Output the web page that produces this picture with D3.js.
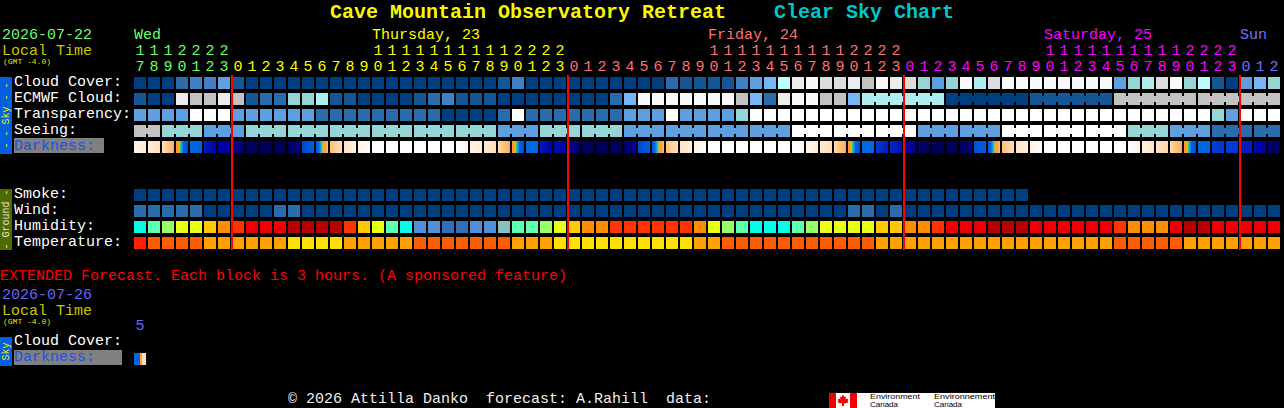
<!DOCTYPE html>
<html>
<head>
<meta charset="utf-8">
<title>Cave Mountain Observatory Retreat Clear Sky Chart</title>
<script src="https://cdnjs.cloudflare.com/ajax/libs/d3/7.8.5/d3.min.js"></script>
<style>
  html, body { margin: 0; padding: 0; background: #000; overflow: hidden; }
  svg { display: block; }
  text { font-family: "Liberation Mono", monospace; font-size: 15px; white-space: pre; }
</style>
</head>
<body>
<svg id="chart" width="1284" height="408"></svg>
<script>
// hour of day for each one hour column, starts wed 17:00
const hours = [17,18,19,20,21,22,23,
  0,1,2,3,4,5,6,7,8,9,10,11,12,13,14,15,16,17,18,19,20,21,22,23,
  0,1,2,3,4,5,6,7,8,9,10,11,12,13,14,15,16,17,18,19,20,21,22,23,
  0,1,2,3,4,5,6,7,8,9,10,11,12,13,14,15,16,17,18,19,20,21,22,23,
  0,1,2];
const dayNames = ['Wed', 'Thursday, 23', 'Friday, 24', 'Saturday, 25', 'Sun'];
const dayStarts = [0, 7, 31, 55, 79];
const dayLabelCols = [0, 17, 41, 65, 79];
const midnightCols = [7, 31, 55, 79];

// sky rows, values are index into the sky colour list (0 = clear/dark blue .. 13 = white)
const cloudCover = [0,0,0,2,3,3,4,1,0,0, 0,0,0,0,0,0,0,0,0,0,
  0,0,0,0,0,0,1,3,0,0, 0,0,0,0,0,0,0,0,2,1,
  1,1,1,3,4,5,8,11,12,10, 10,11,9,12,11,10,6,4,6,12,
  7,10,12,12,12,12,12,12,12,12, 4,6,7,10,12,6,8,1,0,4,5,6];
const ecmwfCloud = [1,0,0,11,9,9,11,9,1,2, 2,6,6,7,1,1,0,0,0,0,
  1,2,3,1,1,1,0,0,0,0, 0,0,0,0,2,5,12,12,12,12,
  12,12,12,9,5,2,11,12,12,9, 9,5,7,7,7,7,7,7,0,0,
  0,0,0,0,1,1,1,1,1,1, 9,9,9,9,9,9,9,9,9,9,9,9];
const transparency = [4,4,4,4,13,13,13,4,4,4, 4,4,4,2,2,2,2,2,2,2,
  2,2,0,0,0,0,2,13,2,2, 2,2,2,2,2,4,4,4,13,4,
  4,4,4,6,13,13,13,13,13,13, 13,13,13,13,13,13,13,13,13,13,
  13,13,13,13,13,13,13,13,13,13, 13,13,13,13,13,13,13,6,4,13,13,13];
const seeing = [9,9, 6,6,6, 4,4,4, 6,6,6, 6,6,6, 6,6,6, 6,6,6, 6,6,6, 6,6,6,
  4,4,4, 6,6,6, 6,6,6, 4,4,4, 4,4,4, 4,4,4, 4,4,4,
  13,13,13, 13,13,13, 13,13,13, 4,4,4, 4,4,4,
  13,13,13, 13,13,13, 13,13,13, 6,6,6, 4,4,4, 2,2,2, 2,2];
const smoke = [0,0,0,0,0,0,0,0,0,0, 0,0,0,0,0,0,0,0,0,0,
  0,0,0,0,0,0,0,0,0,0, 0,0,0,0,0,0,0,0,0,0,
  0,0,0,0,0,0,0,0,0,0, 0,0,0,0,0,0,0,0,0,0, 0,0,0,0];
const wind = [2,2,2,2,2,0,0,0,0,0, 2,2,0,0,0,0,0,0,0,0,
  0,0,0,0,0,0,0,0,0,0, 0,0,0,0,0,0,0,0,0,0,
  0,0,0,0,0,0,0,0,0,0, 0,2,2,0,2,0,0,0,0,0,
  0,0,0,0,0,0,0,0,0,0, 0,0,0,0,0,0,0,0,0,0,0,0];
// relative humidity %
const humidity = [45,50,55,60,60,65,70,75,80,80, 80,85,85,85,85,75,65,60,50,45,
  35,35,30,30,35,35,40,50,50,55, 60,65,70,70,75,75,75,75,75,75,
  70,60,55,50,45,45,45,50,55,60, 60,60,60,65,65,70,70,75,80,80,
  80,85,85,85,80,80,80,80,80,80, 75,70,70,70,80,85,85,80,80,80,80,80];
// deg C
const temperature = [30,26,26,26,26,22,22,22,22,22, 22,18,18,18,18,22,22,22,22,22,
  26,26,26,26,26,26,26,22,22,22, 18,18,18,18,18,18,18,18,18,18,
  22,22,26,26,26,26,26,26,26,26, 26,26,26,22,22,22,22,22,22,22,
  22,22,22,22,22,22,22,22,22,22, 26,26,26,26,26,22,22,22,22,22,22,22];

// how many columns are joined together in each run
const seeingSpans = [2,3,3,3,3,3,3,3,3,3,3,3,3,3,3,3,3,3,3,3,3,3,3,3,3,3,3,2];
const ecmwfSpans = [...Array(52).fill(1), 6,6,6,6,6];

// darkness at left and right edge of each column (about a limiting magnitude,
// -6 is daylight, 8 the darkest sky)
const darknessIn = [-5,-4.3,-3.3,-1.5,1,3.8,5,5.6,6.8,7.2, 7.4,7.3,2.5,2,-2.2,-3.7,-5,-6,-6,-6,
  -6,-6,-6,-6,-5,-4.2,-3,-1.5,1,4, 4.5,5.5,7,7.3,7.3,7.3,2.5,2,-2.2,-3.6,
  -5,-6,-6,-6,-6,-6,-6,-6,-5.2,-4.2, -3,-1.5,1,3,3.5,5,6.8,7.2,7.4,7.4,
  2.2,2,-2.3,-3.6,-4.8,-6,-6,-6,-6,-6, -6,-6,-4.8,-3.8,-3,-1.5,1,2.8,2.8,3.8,4.5,6.5];
const darknessOut = [-4.4,-3.5,-1.8,2.5,1.5,5,5.3,6.5,7.2,7.4, 7.4,5.8,1.8,-2.2,-3.3,-4.7,-5.8,-6,-6,-6,
  -6,-6,-6,-5.2,-4.3,-3.3,-1.7,2.5,1,5, 5,6.8,7.3,7.3,7.2,5.5,1.8,-2.2,-3.3,-4.5,
  -5.8,-6,-6,-6,-6,-6,-6,-5.4,-4.4,-3.3, -1.7,2.5,1,3.8,4.2,6,7,7.4,7.4,6,
  1.8,-2.2,-3.2,-4.4,-5.8,-6,-6,-6,-6,-6, -6,-4.8,-3.8,-3,-1.7,2.5,1.2,3,3,3.8,5.5,7];
// extended block, squeezed into one cell
const extDarkness = [1.2,1.2,1.2,-1.5,-3.2,-3.4];

const skyColors = ['#003f7f','#135796','#2b6cad','#4080c4','#5e9fe0','#77b6f6','#95d5d5','#aeeeee','#bcfcfc',
  '#c2c2c2','#dcdcdc','#ececec','#fafafa','#ffffff'];
const humidityLevels = [30,35,40,45,50,55,60,65,70,75,80,85];
const humidityColors = ['#3070b8','#5090d8','#88c0c0','#00ffe6','#5dffb0','#99ff66','#e8ff16','#ffc800','#ff8c00','#ff3300','#ee0000','#b80000'];
const tempLevels = [18,22,26,30];
const tempColors = ['#ffe000','#ffa000','#ff5c00','#ff2000'];
const darkLevels = [-6,-5,-4,-3,-2,-1.5,-1,-0.5,-0.2,0.2,0.6,1,2,3,4,5,6,7,8];
const darkColors = ['#ffffff','#fff4e8','#ffe8cc','#ffd8a8','#ffb868','#ffa040','#ff9020','#e8c030','#80c860','#20b0b0','#0090ff',
  '#0068e0','#0058d8','#0038d0','#0018b8','#0000a8','#000088','#000060','#000050'];
const dayColors = ['#66ff66','#ffff00','#ff7070','#ff00ff','#7070ff'];

const skyColor = d3.scaleOrdinal().domain(d3.range(skyColors.length)).range(skyColors);
const humColor = d3.scaleOrdinal().domain(humidityLevels).range(humidityColors);
const tempColor = d3.scaleOrdinal().domain(tempLevels).range(tempColors);
const darkColor = d3.scaleLinear().domain(darkLevels).range(darkColors);

const svg = d3.select('#chart');
const defs = svg.append('defs');

const x = d3.scaleBand().domain(d3.range(hours.length)).range([134, 1280]).paddingInner(2 / 14).paddingOuter(0);
const skyRows = ['Cloud Cover:', 'ECMWF Cloud:', 'Transparency:', 'Seeing:', 'Darkness:'];
const groundRows = ['Smoke:', 'Wind:', 'Humidity:', 'Temperature:'];
const ySky = d3.scaleBand().domain(skyRows).range([77, 153]).paddingInner(4 / 16).paddingOuter(0);
const yGround = d3.scaleBand().domain(groundRows).range([189, 249]).paddingInner(4 / 16).paddingOuter(0);

const dayOf = c => d3.bisectRight(dayStarts, c) - 1;

function label(txt, tx, ty, fill, size) {
  return svg.append('text').attr('x', tx).attr('y', ty).attr('fill', fill)
    .style('font-size', (size || 15) + 'px').text(txt);
}

// ---- titles
label('Cave Mountain Observatory Retreat', 330, 18, '#f8f800', 20).style('font-weight', 'bold');
label('Clear Sky Chart', 774, 18, '#00c8c8', 20).style('font-weight', 'bold');

label('2026-07-22', 2, 39, '#66ff66');
label('Local Time', 2, 54.5, '#c8c800');
label('(GMT -4.0)', 3, 64, '#e0e000', 8);

dayNames.forEach((d, i) => label(d, x(dayLabelCols[i]), 39, dayColors[i]));

// ---- hour axes
const unitAxis = d3.axisTop(x).tickSize(0).tickPadding(0).tickFormat(c => hours[c] % 10);
const tensAxis = d3.axisTop(x).tickSize(0).tickPadding(0)
  .tickValues(d3.range(hours.length).filter(c => hours[c] >= 10))
  .tickFormat(c => Math.floor(hours[c] / 10));

[[unitAxis, 71], [tensAxis, 55]].forEach(([axis, by]) => {
  const g = svg.append('g').attr('transform', 'translate(0,' + by + ')').call(axis);
  g.select('.domain').remove();
  g.attr('font-family', null).attr('font-size', null);
  g.selectAll('text').attr('dy', 0).attr('fill', c => dayColors[dayOf(c)]);
});

// ---- blocks
function drawRow(values, rowY, colorFn, spans) {
  const g = svg.append('g').attr('shape-rendering', 'crispEdges');
  g.selectAll('rect.block').data(values).join('rect')
    .attr('class', 'block')
    .attr('x', (d, i) => x(i)).attr('y', rowY)
    .attr('width', x.bandwidth()).attr('height', ySky.bandwidth())
    .attr('fill', d => colorFn(d));
  if (spans) {
    // little tabs joining the columns of one forecast run
    let links = [], start = 0;
    spans.forEach(n => {
      d3.range(start, start + n - 1).forEach(c => links.push(c));
      start += n;
    });
    const tab = ySky.bandwidth() / 4;
    g.selectAll('rect.link').data(links).join('rect')
      .attr('class', 'link')
      .attr('x', c => x(c) + x.bandwidth()).attr('y', rowY + tab)
      .attr('width', x.step() - x.bandwidth()).attr('height', tab * 2)
      .attr('fill', c => colorFn(values[c]));
  }
}

drawRow(cloudCover, ySky('Cloud Cover:'), skyColor);
drawRow(ecmwfCloud, ySky('ECMWF Cloud:'), skyColor, ecmwfSpans);
drawRow(transparency, ySky('Transparency:'), skyColor);
drawRow(seeing, ySky('Seeing:'), skyColor, seeingSpans);
drawRow(smoke, yGround('Smoke:'), skyColor);
drawRow(wind, yGround('Wind:'), skyColor);
drawRow(humidity, yGround('Humidity:'), humColor);
drawRow(temperature, yGround('Temperature:'), tempColor);

// darkness blocks are gradients between the edge values
const stopAt = d3.range(0, 1.01, 0.125);
darknessIn.forEach((v, c) => {
  const grad = defs.append('linearGradient').attr('id', 'dark' + c);
  const mix = d3.interpolateNumber(v, darknessOut[c]);
  stopAt.forEach(t => grad.append('stop').attr('offset', t).attr('stop-color', darkColor(mix(t))));
});
svg.append('g').attr('shape-rendering', 'crispEdges')
  .selectAll('rect').data(darknessIn).join('rect')
  .attr('x', (d, i) => x(i)).attr('y', ySky('Darkness:'))
  .attr('width', x.bandwidth()).attr('height', ySky.bandwidth())
  .attr('fill', (d, i) => 'url(#dark' + i + ')');

// row labels
skyRows.forEach(r => {
  if (r === 'Darkness:') {
    svg.append('rect').attr('x', 14).attr('y', 138).attr('width', 90).attr('height', 15).attr('fill', '#808080');
    label(r, 14, ySky(r) + 9, '#1c50e0');
  } else {
    label(r, 14, ySky(r) + 9, '#ffffff');
  }
});
groundRows.forEach(r => label(r, 14, yGround(r) + 9, '#ffffff'));

// side bars
function sideBar(y0, y1, fill, txt) {
  svg.append('rect').attr('x', 0).attr('y', y0).attr('width', 12).attr('height', y1 - y0).attr('fill', fill);
  svg.append('text')
    .attr('transform', 'translate(9,' + (y0 + y1) / 2 + ') rotate(-90)')
    .attr('text-anchor', 'middle').attr('fill', txt.color)
    .style('font-size', '10px').text(txt.s);
}
sideBar(77, 154, '#0060e0', {s: '- - Sky - -', color: '#f0f000'});
sideBar(189, 250, '#4f6b00', {s: '- Ground -', color: '#e8e8d0'});
sideBar(337, 366, '#0060e0', {s: 'Sky', color: '#f0f000'});

// midnight lines
svg.append('g').attr('shape-rendering', 'crispEdges')
  .selectAll('rect').data(midnightCols).join('rect')
  .attr('x', c => x(c) - 1).attr('y', 75).attr('width', 2).attr('height', 175).attr('fill', '#ff0000');

// ---- extended forecast
label('EXTENDED Forecast. Each block is 3 hours. (A sponsored feature)', 0, 280, '#ff0000');
label('2026-07-26', 2, 299, '#6666ff');
label('Local Time', 2, 314.5, '#c8c800');
label('(GMT -4.0)', 3, 324, '#e0e000', 8);
label('5', x(0) + x.bandwidth() / 2, 330, '#6666ff').attr('text-anchor', 'middle');
label('Cloud Cover:', 14, 345, '#ffffff');
svg.append('rect').attr('x', 14).attr('y', 350).attr('width', 108).attr('height', 15).attr('fill', '#808080');
label('Darkness:', 14, 361, '#1c50e0');

const xExt = d3.scaleBand().domain(d3.range(extDarkness.length)).range([x(0), x(0) + x.bandwidth()]);
svg.append('g').attr('shape-rendering', 'crispEdges')
  .selectAll('rect').data(extDarkness).join('rect')
  .attr('x', (d, i) => xExt(i)).attr('y', 353)
  .attr('width', xExt.bandwidth()).attr('height', x.bandwidth())
  .attr('fill', d => darkColor(d));

// ---- footer
label('\u00a9 2026 Attilla Danko  forecast: A.Rahill  data:', 288, 403.4, '#f0f0f0');

// env canada logo, a white plate clipped by the page bottom
const logo = svg.append('g').attr('transform', 'translate(829,393)');
logo.append('rect').attr('width', 166).attr('height', 15).attr('fill', '#ffffff');
logo.append('rect').attr('width', 7).attr('height', 15).attr('fill', '#f00000');
logo.append('rect').attr('x', 21).attr('width', 7).attr('height', 15).attr('fill', '#f00000');
logo.append('path').attr('fill', '#f00000')
  .attr('d', 'M14 1.5 L15.5 4 L17 3.5 L16.5 6.5 L18 5.5 L19.5 7 L18.5 8 L19.5 9.5 L15 10.5 L15 13 L13 13 L13 10.5 L8.5 9.5 L9.5 8 L8.5 7 L10 5.5 L11.5 6.5 L11 3.5 L12.5 4 Z');
[['Environment', 41, 50], ['Environnement', 105, 61]].forEach(([t, tx, tw]) => {
  logo.append('text').attr('x', tx).attr('y', 5.8).attr('fill', '#000')
    .attr('textLength', tw).attr('lengthAdjust', 'spacingAndGlyphs')
    .style('font-family', '"Liberation Sans"').style('font-size', '6.8px').text(t);
  logo.append('text').attr('x', tx).attr('y', 13.7).attr('fill', '#000')
    .attr('textLength', 28).attr('lengthAdjust', 'spacingAndGlyphs')
    .style('font-family', '"Liberation Sans"').style('font-size', '6.8px').text('Canada');
});
</script>
</body>
</html>
